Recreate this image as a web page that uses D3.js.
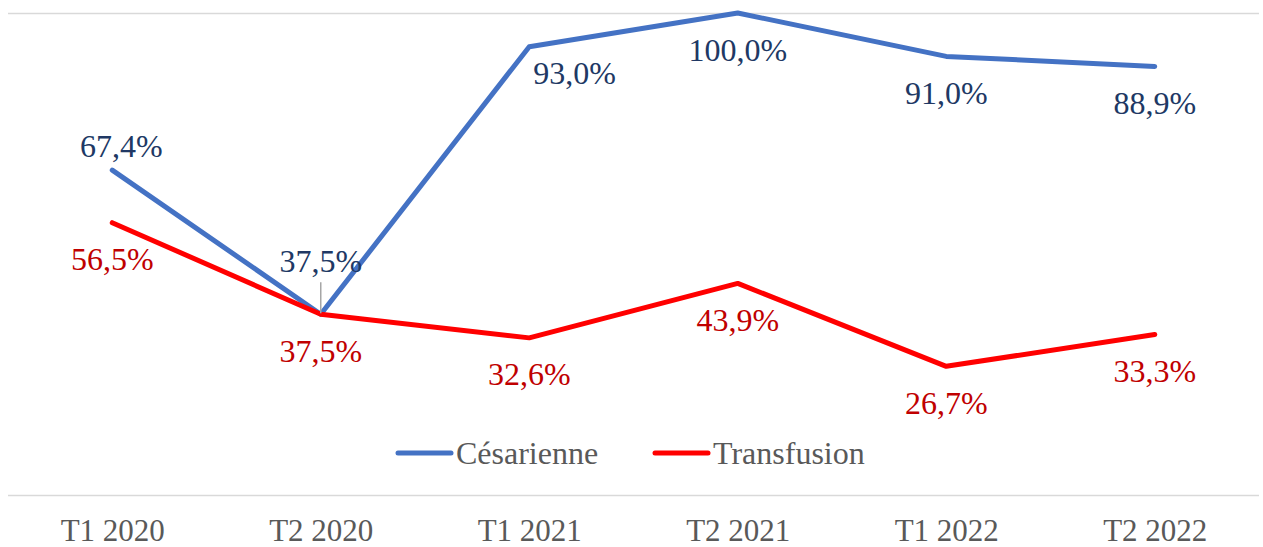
<!DOCTYPE html>
<html>
<head>
<meta charset="utf-8">
<script src="https://cdn.jsdelivr.net/npm/d3@7"></script>
<style>
  html, body { margin: 0; padding: 0; background: #fff; }
  svg { display: block; }
</style>
</head>
<body>
<svg id="chart" width="1263" height="547"></svg>
<script>
// ---- data ----
const categories = ["T1 2020", "T2 2020", "T1 2021", "T2 2021", "T1 2022", "T2 2022"];
const cesarienne = [0.674, 0.375, 0.930, 1.000, 0.910, 0.889];
const transfusion = [0.565, 0.375, 0.326, 0.439, 0.267, 0.333];
const seriesNames = ["Césarienne", "Transfusion"];
const yTicks = [0, 1];
// label placement keywords per point
const cesLabelPlacement = ["above", "aboveLeader", "belowRight", "below", "below", "below"];
const transLabelPlacement = ["below", "below", "below", "below", "below", "below"];

// ---- layout / styles ----
const W = 1263, H = 547;
const plot = { left: 8, right: 1259, top: 13, bottom: 495 };
const FONT = "'Liberation Serif', 'Times New Roman', serif";
const FS = 32;
const colors = { ces: "#4472C4", trans: "#FF0000", cesLabel: "#203864", transLabel: "#C00000", axis: "#595959", grid: "#D9D9D9" };
const placements = {
  above:       { dx: 9,  dy: -13, anchor: "middle" },
  aboveLeader: { dx: 0,  dy: -42, anchor: "middle", leader: true },
  belowRight:  { dx: 4,  dy: 37,  anchor: "start" },
  below:       { dx: 0,  dy: 47.5, anchor: "middle" }
};

const svg = d3.select("#chart");

const x = d3.scalePoint().domain(categories).range([plot.left, plot.right]).padding(0.5);
const y = d3.scaleLinear().domain([0, 1]).range([plot.bottom, plot.top]);

// gridlines
const grid = svg.append("g")
  .attr("transform", `translate(${plot.left},0)`)
  .call(d3.axisLeft(y).tickValues(yTicks).tickSize(-(plot.right - plot.left)).tickFormat(""));
grid.select(".domain").remove();
grid.selectAll(".tick line").attr("stroke", colors.grid).attr("stroke-width", 1.5);

// x axis labels
const xAxis = svg.append("g")
  .attr("transform", `translate(0,${plot.bottom})`)
  .call(d3.axisBottom(x).tickSize(0));
xAxis.select(".domain").remove();
xAxis.selectAll(".tick text")
  .attr("y", 45.5).attr("dy", 0)
  .attr("fill", colors.axis)
  .style("font-family", FONT).style("font-size", (FS - 1) + "px");

const line = d3.line().x((d, i) => x(categories[i])).y(d => y(d));

function drawSeries(values, color) {
  svg.append("path")
    .datum(values)
    .attr("d", line)
    .attr("fill", "none")
    .attr("stroke", color)
    .attr("stroke-width", 5)
    .attr("stroke-linecap", "round")
    .attr("stroke-linejoin", "round");
}
drawSeries(cesarienne, colors.ces);
drawSeries(transfusion, colors.trans);

const fmt = v => d3.format(".1f")(v * 100).replace(".", ",") + "%";

function drawLabels(values, placementList, color) {
  values.forEach((v, i) => {
    const p = placements[placementList[i]];
    const px = x(categories[i]), py = y(v);
    if (p.leader) {
      svg.append("line")
        .attr("x1", px).attr("x2", px)
        .attr("y1", py + p.dy + 10).attr("y2", py - 1)
        .attr("stroke", "#A6A6A6").attr("stroke-width", 1.5);
    }
    svg.append("text")
      .attr("x", px + p.dx).attr("y", py + p.dy)
      .attr("text-anchor", p.anchor)
      .attr("fill", color)
      .style("font-family", FONT).style("font-size", FS + "px")
      .text(fmt(v));
  });
}
drawLabels(cesarienne, cesLabelPlacement, colors.cesLabel);
drawLabels(transfusion, transLabelPlacement, colors.transLabel);

// legend
const legendItems = [
  { name: seriesNames[0], color: colors.ces, x0: 398 },
  { name: seriesNames[1], color: colors.trans, x0: 655 }
];
const legendY = 453;
legendItems.forEach(it => {
  svg.append("line")
    .attr("x1", it.x0).attr("x2", it.x0 + 53)
    .attr("y1", legendY).attr("y2", legendY)
    .attr("stroke", it.color).attr("stroke-width", 5).attr("stroke-linecap", "round");
  svg.append("text")
    .attr("x", it.x0 + 58).attr("y", legendY + 11)
    .attr("fill", colors.axis)
    .style("font-family", FONT).style("font-size", FS + "px")
    .text(it.name);
});
</script>
</body>
</html>
